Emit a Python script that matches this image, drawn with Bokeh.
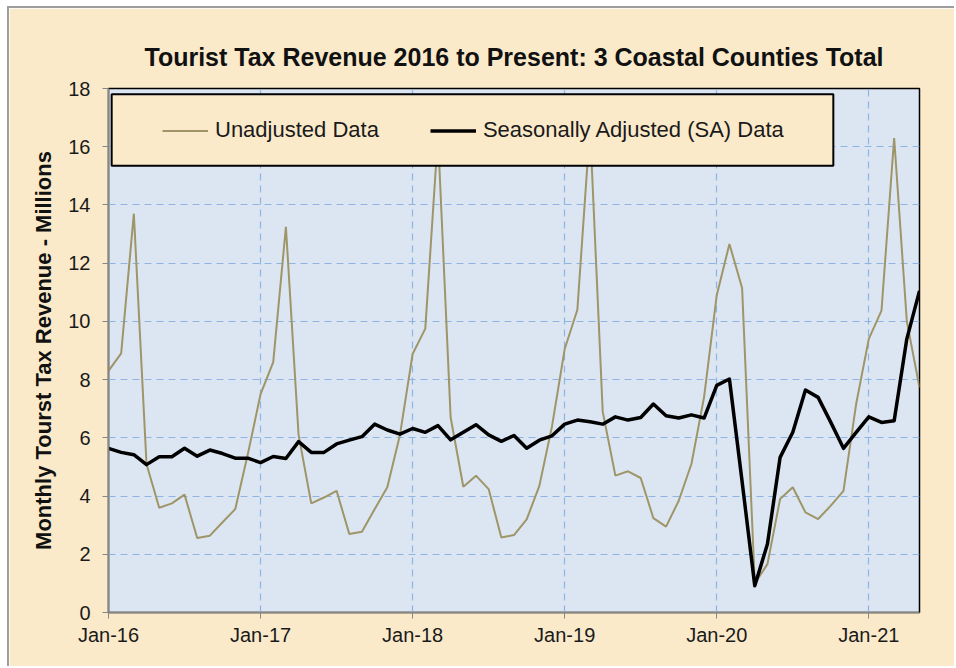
from bokeh.plotting import figure
from bokeh.models import Legend, LegendItem, BoxAnnotation, FixedTicker, Range1d
from bokeh.embed import file_html
from bokeh.resources import INLINE

# ---- data (monthly, Jan-2016 .. May-2021) ----
months = list(range(65))
unadjusted = [
    8.30, 8.90, 13.70, 5.10, 3.60, 3.75, 4.05, 2.56, 2.64, 3.10, 3.55, 5.45,
    7.50, 8.60, 13.25, 6.10, 3.75, 3.95, 4.18, 2.70, 2.77, 3.55, 4.30, 6.10,
    8.88, 9.75, 16.40, 6.70, 4.32, 4.70, 4.24, 2.58, 2.66, 3.20, 4.35, 6.40,
    9.05, 10.40, 16.70, 6.90, 4.70, 4.85, 4.62, 3.24, 2.95, 3.84, 5.10, 7.40,
    10.90, 12.66, 11.15, 1.00, 1.66, 3.90, 4.30, 3.44, 3.21, 3.67, 4.18, 7.16,
    9.40, 10.37, 16.30, 10.00, 7.73,
]
seasonally_adjusted = [
    5.64, 5.50, 5.42, 5.08, 5.35, 5.35, 5.64, 5.37, 5.58, 5.46, 5.30, 5.30,
    5.15, 5.36, 5.29, 5.87, 5.50, 5.50, 5.79, 5.92, 6.04, 6.47, 6.27, 6.13,
    6.32, 6.19, 6.42, 5.93, 6.19, 6.45, 6.10, 5.88, 6.08, 5.64, 5.92, 6.07,
    6.47, 6.61, 6.55, 6.47, 6.72, 6.61, 6.70, 7.16, 6.76, 6.68, 6.79, 6.68,
    7.80, 8.02, 4.50, 0.92, 2.35, 5.33, 6.19, 7.64, 7.39, 6.53, 5.64, 6.19,
    6.72, 6.53, 6.59, 9.40, 11.05,
]
x_tick_months = [0, 12, 24, 36, 48, 60]
x_tick_labels = ["Jan-16", "Jan-17", "Jan-18", "Jan-19", "Jan-20", "Jan-21"]
y_ticks = [0, 2, 4, 6, 8, 10, 12, 14, 16, 18]

title_text = "Tourist Tax Revenue 2016 to Present: 3 Coastal Counties Total"
y_label = "Monthly Tourst Tax Revenue - Millions"
series_names = ["Unadjusted Data", "Seasonally Adjusted (SA) Data"]

# ---- styling ----
PARCHMENT = "#FAEACA"
PLOT_BG = "#DCE6F2"
GRID = "#8EB4E3"
UNADJ_COLOR = "#9E9568"
FONT = "Liberation Sans"

p = figure(width=947, height=660, output_backend="svg", toolbar_location=None,
           x_range=Range1d(0, 64), y_range=Range1d(0, 18),
           min_border_left=99, min_border_right=37,
           min_border_top=80, min_border_bottom=56)
p.styles = {"margin-left": "7px", "margin-top": "6px",
            "border-left": "2px solid #9E9E9E", "border-top": "2px solid #9E9E9E"}

p.background_fill_color = PLOT_BG
p.border_fill_color = PARCHMENT
p.outline_line_color = "#000000"
p.outline_line_width = 1.5

p.title.text = title_text
p.title.text_font = FONT
p.title.text_font_size = "25px"
p.title.text_font_style = "bold"
p.title.text_color = "#111111"
p.title.align = "center"
p.title.standoff = 35

# axes
for ax in (p.xaxis[0], p.yaxis[0]):
    ax.axis_line_color = "#868686"
    ax.axis_line_width = 1.5
    ax.major_tick_line_color = "#868686"
    ax.major_tick_out = 6
    ax.major_tick_in = 0
    ax.minor_tick_line_color = None
    ax.major_label_text_font = FONT
    ax.major_label_text_font_size = "20px"
    ax.major_label_text_color = "#1a1a1a"

p.xaxis.ticker = FixedTicker(ticks=x_tick_months)
p.xaxis.major_label_overrides = dict(zip(x_tick_months, x_tick_labels))
p.xaxis.major_label_standoff = 5
p.yaxis.ticker = FixedTicker(ticks=y_ticks)
p.yaxis.major_label_standoff = 12
p.yaxis.axis_label = y_label
p.yaxis.axis_label_text_font = FONT
p.yaxis.axis_label_text_font_size = "22px"
p.yaxis.axis_label_text_font_style = "bold"
p.yaxis.axis_label_text_color = "#111111"
p.yaxis.axis_label_standoff = 9

# grid
p.xgrid.ticker = FixedTicker(ticks=x_tick_months)
p.ygrid.ticker = FixedTicker(ticks=y_ticks)
for g in (p.xgrid[0], p.ygrid[0]):
    g.grid_line_color = GRID
    g.grid_line_dash = "7 5"
    g.grid_line_width = 1.2

# series
r_unadj = p.line(months, unadjusted, line_color=UNADJ_COLOR, line_width=2)
r_sa = p.line(months, seasonally_adjusted, line_color="#000000", line_width=3.5,
              line_join="round")

# legend box (drawn over the lines, like the original)
legend_box = BoxAnnotation(left=0.25, right=57.2, bottom=15.35, top=17.8,
                           fill_color=PARCHMENT, fill_alpha=1.0,
                           line_color="#000000", line_alpha=1.0, line_width=2)
p.add_layout(legend_box)

legend = Legend(items=[LegendItem(label=series_names[0], renderers=[r_unadj]),
                       LegendItem(label=series_names[1], renderers=[r_sa])],
                orientation="horizontal", location=(54, 469),
                padding=0, margin=0, spacing=51, glyph_width=46,
                glyph_height=25, label_height=25, label_standoff=7,
                border_line_alpha=0, background_fill_alpha=0,
                label_text_font=FONT, label_text_font_size="22px",
                label_text_color="#1a1a1a")
p.add_layout(legend)

open("out.html", "w").write(file_html(p, INLINE))
